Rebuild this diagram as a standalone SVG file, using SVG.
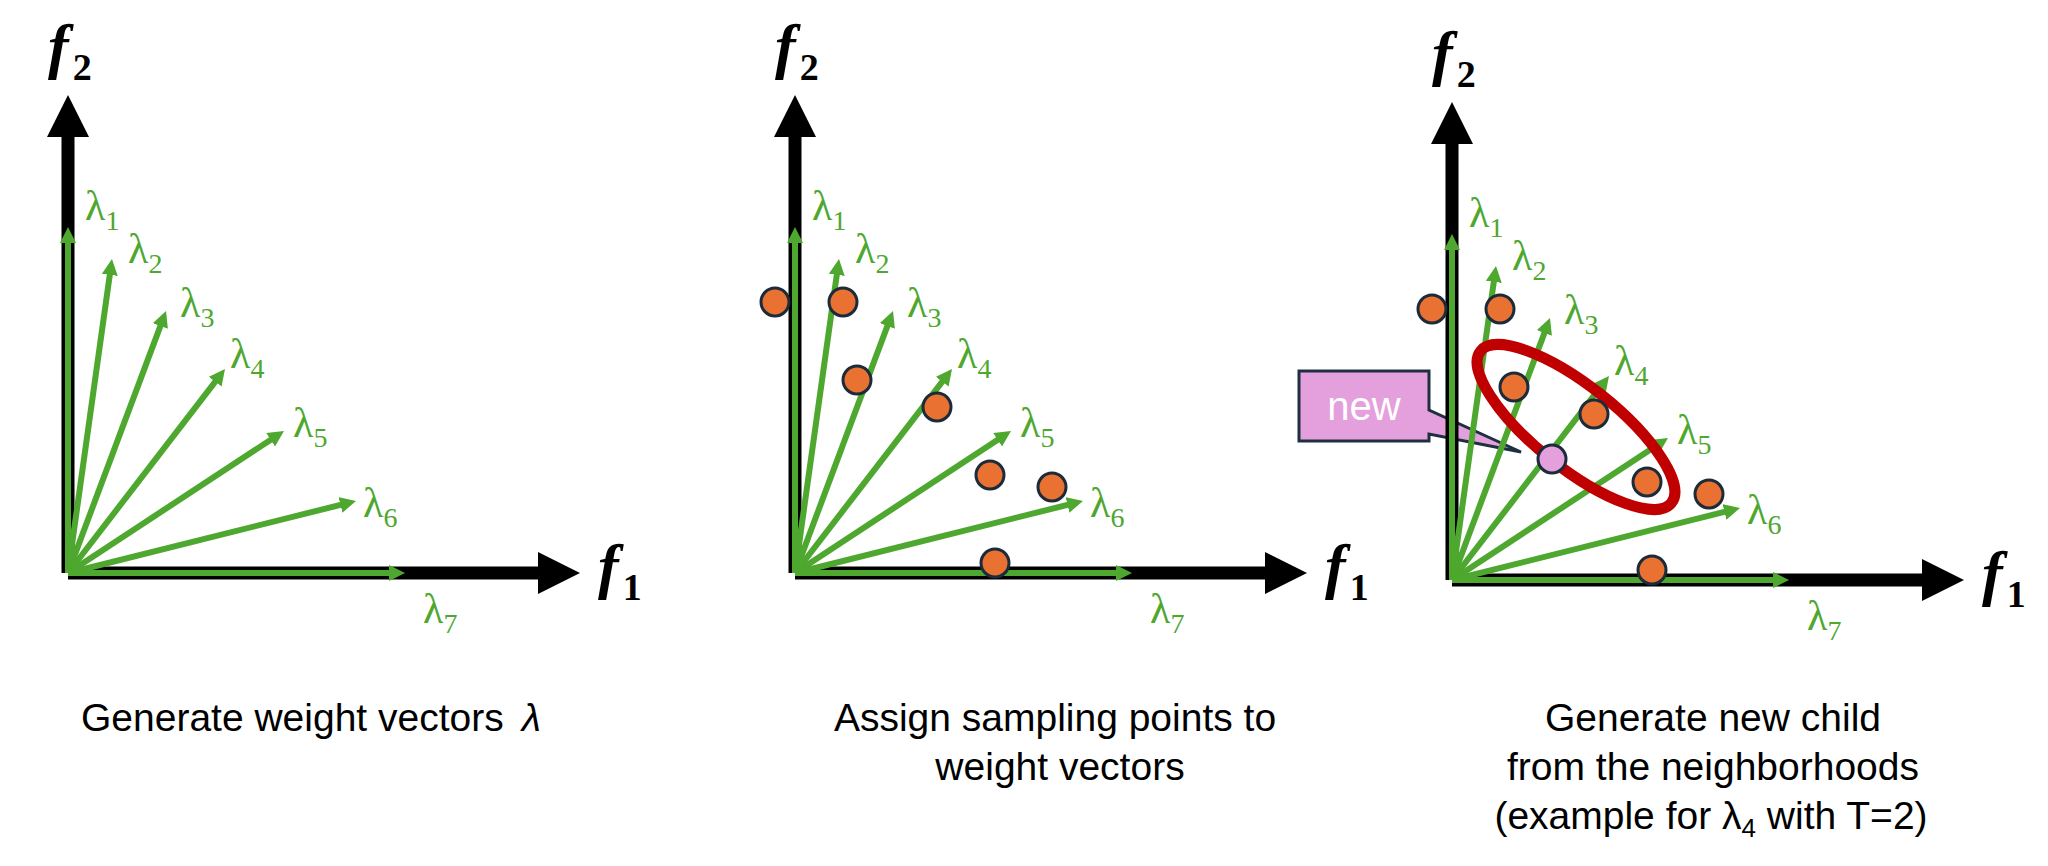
<svg xmlns="http://www.w3.org/2000/svg" width="2048" height="866" viewBox="0 0 2048 866">
<style>
.ax{stroke:#000;stroke-width:13;fill:none}
.ah{fill:#000}
.vec{stroke:#4EA72E;stroke-width:6;fill:none;marker-end:url(#gh)}
.lam{font-family:"Liberation Serif","DejaVu Serif",serif;font-size:42px;fill:#4EA72E}
.sub{font-size:28px}
.fl{font-family:"Liberation Serif","DejaVu Serif",serif;font-size:62px;font-weight:bold;font-style:italic;fill:#000}
.fs{font-size:38px;font-style:normal}
.dot{fill:#E97132;stroke:#1C2B39;stroke-width:3}
.cap{font-family:"Liberation Sans",Arial,sans-serif;font-size:39px;fill:#000}
</style>
<defs>
<marker id="gh" markerUnits="userSpaceOnUse" viewBox="0 -8 16 16" refX="2" refY="0" markerWidth="16" markerHeight="16" orient="auto"><path d="M0,-8 L16,0 L0,8 Z" fill="#4EA72E"/></marker>
</defs>
<rect width="2048" height="866" fill="#fff"/>

<!-- callout (under axes) -->
<g id="new-callout">
<path d="M1299,371 H1429 V410 L1521,452 L1429,434 V441 H1299 Z" fill="#E4A0DC" stroke="#1E2F40" stroke-width="3" stroke-linejoin="miter"/>
<text x="1364" y="420" text-anchor="middle" font-family="Liberation Sans, Arial, sans-serif" font-size="40" fill="#fff">new</text>
</g>

<!-- Panel 1 -->
<g id="panel1" transform="translate(68,573)">
<g id="axes1">
<line class="ax" x1="0" y1="0" x2="0" y2="-437"/>
<polygon class="ah" points="-21,-436 0,-478 21,-436"/>
<line class="ax" x1="0" y1="0" x2="471" y2="0"/>
<polygon class="ah" points="470,-21 512,0 470,21"/>
<text class="fl" x="-20" y="-506">f<tspan class="fs" dx="4" dy="13">2</tspan></text>
<text class="fl" x="530" y="14">f<tspan class="fs" dx="4" dy="13">1</tspan></text>
</g>
<g id="vectors1">
<line class="vec" x1="0" y1="0" x2="0" y2="-332"/>
<line class="vec" x1="0" y1="0" x2="42.06" y2="-300.14"/>
<line class="vec" x1="0" y1="0" x2="93.10" y2="-248.89"/>
<line class="vec" x1="0" y1="0" x2="148.46" y2="-192.90"/>
<line class="vec" x1="0" y1="0" x2="204.30" y2="-134.31"/>
<line class="vec" x1="0" y1="0" x2="274.42" y2="-68.60"/>
<line class="vec" x1="0" y1="0" x2="323" y2="0"/>
</g>
<g id="labels1">
<text class="lam" x="17" y="-353">λ<tspan class="sub" dy="10">1</tspan></text>
<text class="lam" x="60" y="-310">λ<tspan class="sub" dy="10">2</tspan></text>
<text class="lam" x="112" y="-256">λ<tspan class="sub" dy="10">3</tspan></text>
<text class="lam" x="162" y="-205">λ<tspan class="sub" dy="10">4</tspan></text>
<text class="lam" x="225" y="-136">λ<tspan class="sub" dy="10">5</tspan></text>
<text class="lam" x="295" y="-56">λ<tspan class="sub" dy="10">6</tspan></text>
<text class="lam" x="355" y="50">λ<tspan class="sub" dy="10">7</tspan></text>
</g>
</g>

<!-- Panel 2 -->
<g id="panel2" transform="translate(795,573)">
<g id="axes2">
<line class="ax" x1="0" y1="0" x2="0" y2="-437"/>
<polygon class="ah" points="-21,-436 0,-478 21,-436"/>
<line class="ax" x1="0" y1="0" x2="471" y2="0"/>
<polygon class="ah" points="470,-21 512,0 470,21"/>
<text class="fl" x="-20" y="-506">f<tspan class="fs" dx="4" dy="13">2</tspan></text>
<text class="fl" x="530" y="14">f<tspan class="fs" dx="4" dy="13">1</tspan></text>
</g>
<g id="vectors2">
<line class="vec" x1="0" y1="0" x2="0" y2="-332"/>
<line class="vec" x1="0" y1="0" x2="42.06" y2="-300.14"/>
<line class="vec" x1="0" y1="0" x2="93.10" y2="-248.89"/>
<line class="vec" x1="0" y1="0" x2="148.46" y2="-192.90"/>
<line class="vec" x1="0" y1="0" x2="204.30" y2="-134.31"/>
<line class="vec" x1="0" y1="0" x2="274.42" y2="-68.60"/>
<line class="vec" x1="0" y1="0" x2="323" y2="0"/>
</g>
<g id="labels2">
<text class="lam" x="17" y="-353">λ<tspan class="sub" dy="10">1</tspan></text>
<text class="lam" x="60" y="-310">λ<tspan class="sub" dy="10">2</tspan></text>
<text class="lam" x="112" y="-256">λ<tspan class="sub" dy="10">3</tspan></text>
<text class="lam" x="162" y="-205">λ<tspan class="sub" dy="10">4</tspan></text>
<text class="lam" x="225" y="-136">λ<tspan class="sub" dy="10">5</tspan></text>
<text class="lam" x="295" y="-56">λ<tspan class="sub" dy="10">6</tspan></text>
<text class="lam" x="355" y="50">λ<tspan class="sub" dy="10">7</tspan></text>
</g>
<g id="dots2">
<circle class="dot" cx="-20" cy="-271" r="14"/>
<circle class="dot" cx="48" cy="-271" r="14"/>
<circle class="dot" cx="62" cy="-193" r="14"/>
<circle class="dot" cx="142" cy="-166" r="14"/>
<circle class="dot" cx="195" cy="-98" r="14"/>
<circle class="dot" cx="257" cy="-86" r="14"/>
<circle class="dot" cx="200" cy="-10" r="14"/>
</g>
</g>

<!-- Panel 3 -->
<g id="panel3" transform="translate(1452,580)">
<g id="axes3">
<line class="ax" x1="0" y1="0" x2="0" y2="-437"/>
<polygon class="ah" points="-21,-436 0,-478 21,-436"/>
<line class="ax" x1="0" y1="0" x2="471" y2="0"/>
<polygon class="ah" points="470,-21 512,0 470,21"/>
<text class="fl" x="-20" y="-506">f<tspan class="fs" dx="4" dy="13">2</tspan></text>
<text class="fl" x="530" y="14">f<tspan class="fs" dx="4" dy="13">1</tspan></text>
</g>
<g id="vectors3">
<line class="vec" x1="0" y1="0" x2="0" y2="-332"/>
<line class="vec" x1="0" y1="0" x2="42.06" y2="-300.14"/>
<line class="vec" x1="0" y1="0" x2="93.10" y2="-248.89"/>
<line class="vec" x1="0" y1="0" x2="148.46" y2="-192.90"/>
<line class="vec" x1="0" y1="0" x2="204.30" y2="-134.31"/>
<line class="vec" x1="0" y1="0" x2="274.42" y2="-68.60"/>
<line class="vec" x1="0" y1="0" x2="323" y2="0"/>
</g>
<g id="labels3">
<text class="lam" x="17" y="-353">λ<tspan class="sub" dy="10">1</tspan></text>
<text class="lam" x="60" y="-310">λ<tspan class="sub" dy="10">2</tspan></text>
<text class="lam" x="112" y="-256">λ<tspan class="sub" dy="10">3</tspan></text>
<text class="lam" x="162" y="-205">λ<tspan class="sub" dy="10">4</tspan></text>
<text class="lam" x="225" y="-136">λ<tspan class="sub" dy="10">5</tspan></text>
<text class="lam" x="295" y="-56">λ<tspan class="sub" dy="10">6</tspan></text>
<text class="lam" x="355" y="50">λ<tspan class="sub" dy="10">7</tspan></text>
</g>
</g>

<g id="neighborhood">
<ellipse cx="1576" cy="427" rx="122" ry="41" transform="rotate(38.5 1576 427)" fill="none" stroke="#C00000" stroke-width="11"/>
</g>
<g id="dots3">
<circle class="dot" cx="1432" cy="309" r="14"/>
<circle class="dot" cx="1500" cy="309" r="14"/>
<circle class="dot" cx="1514" cy="387" r="14"/>
<circle class="dot" cx="1594" cy="414" r="14"/>
<circle class="dot" cx="1647" cy="482" r="14"/>
<circle class="dot" cx="1709" cy="494" r="14"/>
<circle class="dot" cx="1652" cy="570" r="14"/>
<circle id="new-point" cx="1552" cy="459" r="14" fill="#E4A0DC" stroke="#1C2B39" stroke-width="3"/>
</g>

<g id="captions">
<text class="cap" x="81" y="731">Generate weight vectors<tspan dx="18" font-style="italic">λ</tspan></text>
<text class="cap" x="1055" y="731" text-anchor="middle">Assign sampling points to</text>
<text class="cap" x="1060" y="780" text-anchor="middle">weight vectors</text>
<text class="cap" x="1713" y="731" text-anchor="middle">Generate new child</text>
<text class="cap" x="1713" y="780" text-anchor="middle">from the neighborhoods</text>
<text class="cap" x="1711" y="829" text-anchor="middle">(example for λ<tspan font-size="26" dy="8">4</tspan><tspan dy="-8"> with T=2)</tspan></text>
</g>
</svg>
